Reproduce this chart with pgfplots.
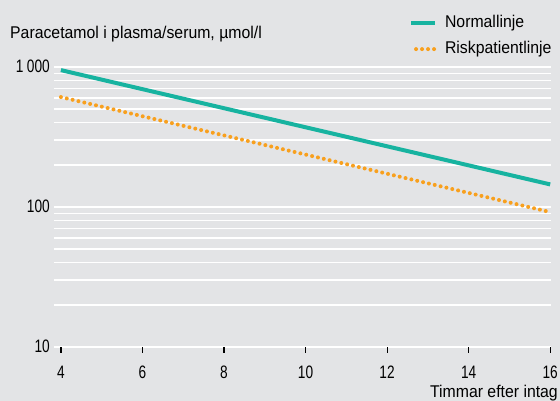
\documentclass[border=0pt]{standalone}
\usepackage{fontspec}
\setmainfont[FakeStretch=0.93]{Liberation Sans}
\newfontfamily\numfont[FakeStretch=0.76]{Liberation Sans}
\usepackage{pgfplots}
\pgfplotsset{compat=1.18}
\definecolor{bg}{HTML}{E3E4E6}
\definecolor{myteal}{HTML}{17B3A0}
\definecolor{myorange}{HTML}{F8A01E}
\newcommand\cf{\fontsize{17bp}{20bp}\selectfont}
\newcommand\nf{\numfont\fontsize{18bp}{21bp}\selectfont}
\pgfplotsset{
  normleg/.style={legend image code/.code={\draw[##1] (0bp,0bp) -- (24bp,0bp);}},
  riskleg/.style={legend image code/.code={\draw[##1] (5bp,0bp) -- (23bp,0bp);}},
}
\begin{document}
\begin{tikzpicture}
\fill[bg] (-54bp,-54bp) rectangle (506bp,347bp);
\begin{axis}[
  scale only axis, width=497bp, height=280bp,
  at={(0,0)}, anchor=south west,
  xmin=3.83, xmax=16.02, ymode=log, ymin=10, ymax=1000,
  axis line style={draw=none},
  xtick={4,6,...,16}, ytick={10,100,1000}, yticklabels={10,100,1\hspace{3.5bp}000},
  ymajorgrids, yminorgrids,
  major grid style={white, line width=1.5bp},
  minor grid style={white, line width=1.5bp},
  tick pos=left,
  tick align=outside,
  major tick length=6bp,
  minor tick length=0pt,
  ytick style={draw=none},
  xtick style={black, line width=1.2bp},
  /pgf/number format/assume math mode=true,
  tick label style={font=\nf},
  xticklabel style={anchor=base, inner sep=0pt, yshift=-26bp},
  yticklabel style={anchor=base east, inner sep=0pt, xshift=2bp, yshift=-6bp},
  legend style={at={(rel axis cs:0.714,1.186)}, anchor=north west, draw=none, fill=none,
    inner sep=0pt, font=\cf, row sep=10bp,
    nodes={inner sep=0pt, text height=12bp, text depth=4bp}},
  legend cell align=left,
]
\addplot[myteal, line width=4bp, normleg]
  coordinates {(4,950) (16,145)};
\addlegendentry{\hspace*{8bp}Normallinje}
\addplot[myorange, line width=4bp, line cap=round, dash pattern=on 0pt off 6bp, riskleg]
  coordinates {(4,610) (16,92)};
\addlegendentry{\hspace*{8bp}Riskpatientlinje}
\end{axis}
\node[anchor=base west, inner sep=0pt, font=\cf] at (-44bp,308bp) {Paracetamol i plasma/serum, µmol/l};
\node[anchor=base east, inner sep=0pt, font=\cf] at (504bp,-50bp) {Timmar efter intag};
\pgfresetboundingbox
\useasboundingbox (-54bp,-54bp) rectangle (506bp,347bp);
\end{tikzpicture}
\end{document}
